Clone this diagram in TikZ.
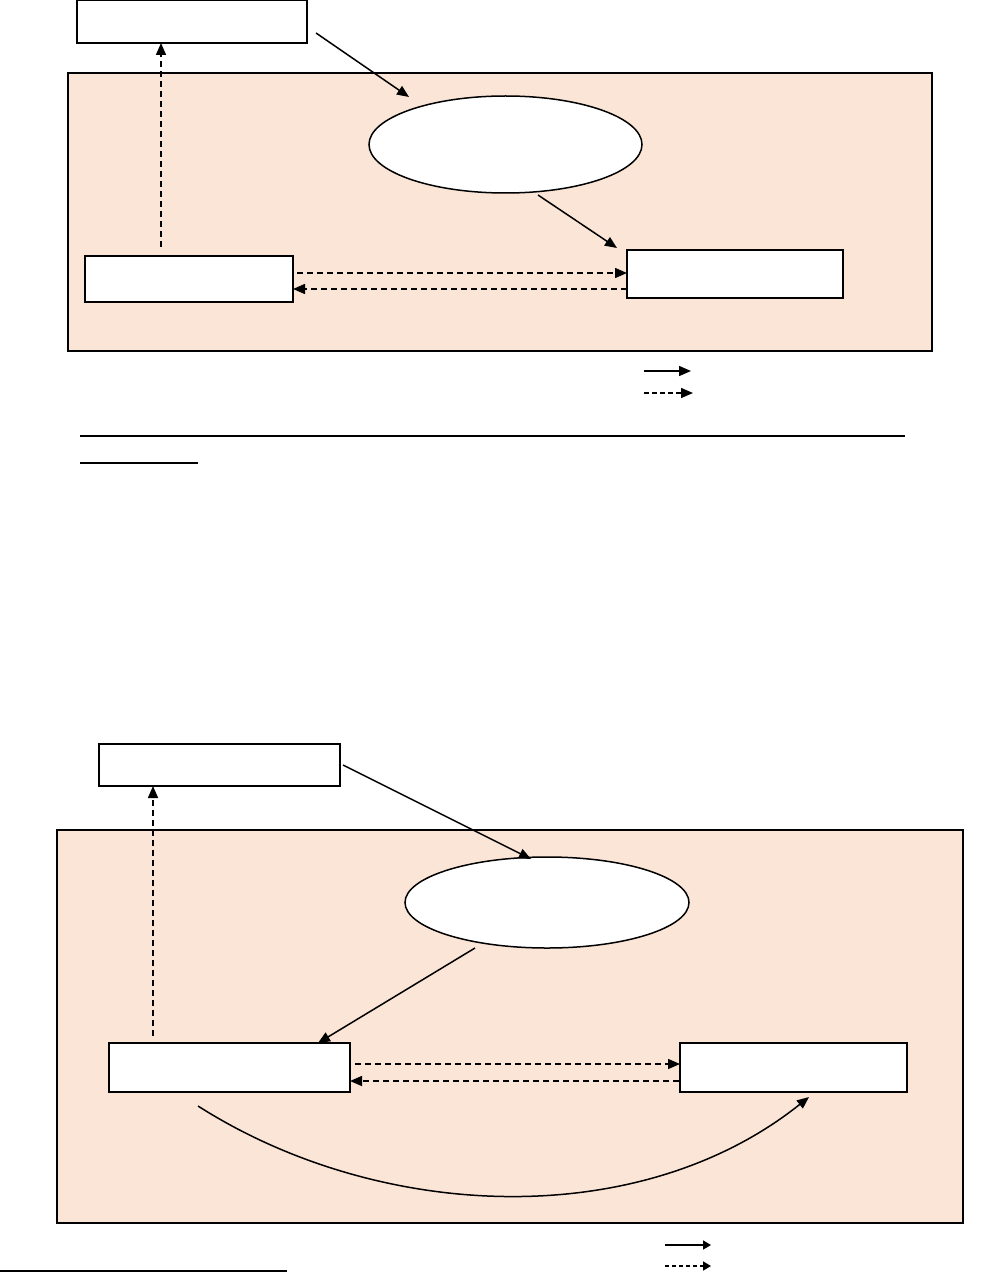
\documentclass[tikz,border=0pt]{standalone}
\usetikzlibrary{arrows.meta,shapes.geometric}
\definecolor{peach}{RGB}{251,229,214}
\begin{document}
\begin{tikzpicture}[x=1pt,y=-1pt,
  panel/.style={draw=black,fill=peach,line width=1.5pt,inner sep=0pt,outer sep=0pt},
  box/.style={draw=black,fill=white,line width=2pt,inner sep=0pt,outer sep=0pt},
  oval/.style={draw=black,fill=white,line width=1.5pt,ellipse,inner sep=0pt,outer sep=0pt},
  arr/.style={line width=1.5pt,-{Triangle[length=12pt,width=10pt]}},
  darr/.style={arr,dash pattern=on 6pt off 4pt},
  sarr/.style={line width=1.5pt,-{Triangle[length=12pt,width=10pt]}},
  sdarr/.style={sarr,dash pattern=on 5pt off 3pt},
  tarr/.style={line width=1.5pt,-{Triangle[length=8pt,width=9pt]}},
  tdarr/.style={tarr,dash pattern=on 4pt off 3pt},
  rule/.style={line width=1.5pt}]
\useasboundingbox (0,0) rectangle (999,1281);
% ---------- top diagram ----------
\node[panel,minimum width=864pt,minimum height=278pt] (P1) at (500,212) {};
\node[box,minimum width=230pt,minimum height=43pt] (A) at (192,21.5) {};
\node[oval,minimum width=273pt,minimum height=97pt] (O1) at (505.5,144.5) {};
\node[box,minimum width=208pt,minimum height=46pt] (B) at (189,279) {};
\node[box,minimum width=216pt,minimum height=48pt] (C) at (735,274) {};
\coordinate (a1s) at (316,33);
\coordinate (a1e) at (409,97);
\draw[arr] (a1s) -- (a1e);
\coordinate (a2s) at (538,195);
\coordinate (a2e) at (617,248);
\draw[arr] (a2s) -- (a2e);
\coordinate (d1s) at (161,247);
\draw[darr] (d1s) -- (d1s |- A.south);
\coordinate (bc1) at (297,273);
\draw[darr] (bc1) -- (bc1 -| C.west);
\coordinate (cb1) at (627,289);
\draw[darr] (cb1) -- (cb1 -| B.east);
\coordinate (l1a) at (644,371); \coordinate (l1b) at (691,371);
\coordinate (l2a) at (644,393); \coordinate (l2b) at (693,393);
\draw[sarr] (l1a) -- (l1b);
\draw[sdarr] (l2a) -- (l2b);
\coordinate (r1a) at (80,436); \coordinate (r1b) at (905,436);
\draw[line width=2.4pt] (r1a) -- (r1b);
\coordinate (r2a) at (80,463); \coordinate (r2b) at (198,463);
\draw[rule] (r2a) -- (r2b);
% ---------- bottom diagram ----------
\node[panel,minimum width=906pt,minimum height=393pt] (P2) at (510,1026.5) {};
\node[box,minimum width=241pt,minimum height=42pt] (D) at (219.5,765) {};
\node[oval,minimum width=284pt,minimum height=91pt] (O2) at (547,902.5) {};
\node[box,minimum width=241pt,minimum height=49pt] (E) at (229.5,1067.5) {};
\node[box,minimum width=227pt,minimum height=49pt] (F) at (793.5,1067.5) {};
\coordinate (b1s) at (343,765);
\coordinate (b1e) at (531,859);
\draw[arr] (b1s) -- (b1e);
\coordinate (b2s) at (475,948);
\coordinate (b2e) at (318,1043);
\draw[arr] (b2s) -- (b2e);
\coordinate (d2s) at (153,1036);
\draw[darr] (d2s) -- (d2s |- D.south);
\coordinate (e1s) at (355,1064);
\draw[darr] (e1s) -- (e1s -| F.west);
\coordinate (e2s) at (679,1081);
\draw[darr] (e2s) -- (e2s -| E.east);
\coordinate (cs) at (198,1106);
\coordinate (ce) at (809,1097);
\draw[arr] (cs) .. controls (380,1222) and (640,1232) .. (ce);
\coordinate (l3a) at (665,1245); \coordinate (l3b) at (711,1245);
\coordinate (l4a) at (665,1266); \coordinate (l4b) at (711,1266);
\draw[tarr] (l3a) -- (l3b);
\draw[tdarr] (l4a) -- (l4b);
\coordinate (r3a) at (0,1271); \coordinate (r3b) at (287,1271);
\draw[rule] (r3a) -- (r3b);
\end{tikzpicture}
\end{document}
